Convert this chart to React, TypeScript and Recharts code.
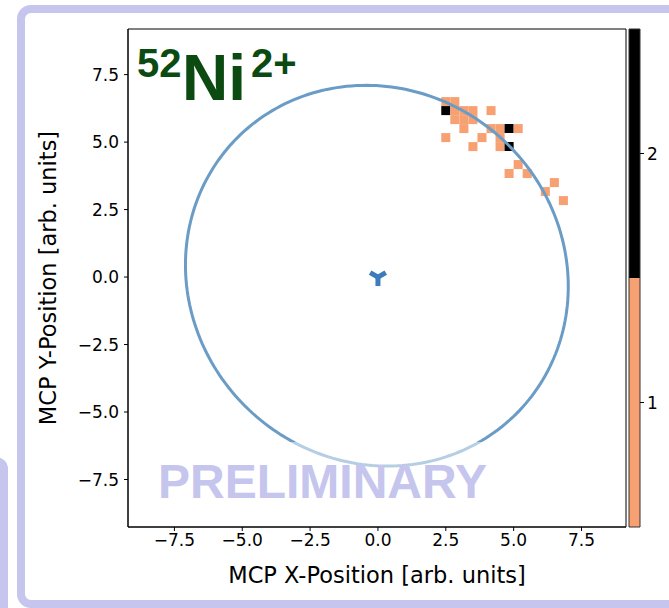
import React from 'react';
import { ScatterChart, Scatter, XAxis, YAxis, ReferenceArea } from 'recharts';

// ---- data ----
const X_TICKS = [-7.5, -5, -2.5, 0, 2.5, 5, 7.5];
const Y_TICKS = [-7.5, -5, -2.5, 0, 2.5, 5, 7.5];
const X_DOMAIN = [-9.21, 9.14];
const Y_DOMAIN = [-9.26, 9.19];

// histogram bins (centres), bin width 1/3
const BIN = 1 / 3;
const cellX = [2.5, 2.833, 2.5, 2.833, 3.167, 3.5, 4.167, 2.833, 3.167, 3.5, 3.167, 4.167, 4.5, 4.833, 5.167, 2.5, 3.833, 4.5, 3.5, 4.5, 4.833, 5.167, 4.833, 5.5, 6.5, 6.167, 6.833];
const cellY = [6.5, 6.5, 6.167, 6.167, 6.167, 6.167, 6.167, 5.833, 5.833, 5.833, 5.5, 5.5, 5.5, 5.5, 5.5, 5.167, 5.167, 5.167, 4.833, 4.833, 4.833, 4.167, 3.833, 3.833, 3.5, 3.167, 2.833];
const cellCount = [1, 1, 2, 1, 1, 1, 1, 1, 1, 1, 1, 1, 1, 2, 1, 1, 1, 1, 1, 1, 2, 1, 1, 1, 1, 1, 1];

const COUNT_LEVELS = [1, 2];
const COUNT_COLORS = ['#f7a072', '#000000'];
const CB_TICKS = [1, 2];

// fitted MCP ellipse parameters
const ELLIPSE_CX = -0.04;
const ELLIPSE_CY = 0.05;
const ELLIPSE_A = 7.25;
const ELLIPSE_B = 6.85;
const ELLIPSE_ANGLE_DEG = 135;

const CENTER_POINT = [{ x: 0, y: 0 }];

const TITLE_MASS = '52';
const TITLE_ELEM = 'Ni';
const TITLE_CHARGE = '2+';
const X_LABEL = 'MCP X-Position [arb. units]';
const Y_LABEL = 'MCP Y-Position [arb. units]';
const WATERMARK = 'PRELIMINARY';

// ---- derived ----
const cells = cellX.map((x, i) => ({ x, y: cellY[i], c: cellCount[i] }));
const ellipsePts = (() => {
  const th = (ELLIPSE_ANGLE_DEG * Math.PI) / 180;
  const pts: { x: number; y: number }[] = [];
  const N = 240;
  for (let k = 0; k <= N; k++) {
    const t = (2 * Math.PI * k) / N;
    const u = ELLIPSE_A * Math.cos(t);
    const v = ELLIPSE_B * Math.sin(t);
    pts.push({
      x: ELLIPSE_CX + u * Math.cos(th) - v * Math.sin(th),
      y: ELLIPSE_CY + u * Math.sin(th) + v * Math.cos(th),
    });
  }
  return pts;
})();
const cbAnchor = CB_TICKS.map((t) => ({ x: 0.5, y: t }));

const fmt = (v: number) => v.toFixed(1).replace('-', '\u2212');
const LAV = '#c5c5ed';
const TICK_FONT = { fontFamily: 'DejaVu Sans', fontSize: 17, fill: '#000' };

const TriDown = (props: any) => {
  const { cx, cy } = props;
  const r = 9;
  return (
    <g stroke="#3c7cbc" strokeWidth={5} strokeLinecap="butt">
      <line x1={cx} y1={cy} x2={cx} y2={cy + r} />
      <line x1={cx} y1={cy} x2={cx - 0.866 * r} y2={cy - 0.5 * r} />
      <line x1={cx} y1={cy} x2={cx + 0.866 * r} y2={cy - 0.5 * r} />
    </g>
  );
};

const NoDot = () => <g />;

export default function App() {
  return (
    <div style={{ position: 'absolute', left: 0, top: 0, width: 669, height: 608, background: '#fff', overflow: 'hidden' }}>
      <div style={{ position: 'absolute', left: 0, top: 0 }}>
        <ScatterChart width={669} height={608} margin={{ top: 29, right: 43, left: 68, bottom: 31 }}>
          <XAxis
            xAxisId="b"
            type="number"
            dataKey="x"
            domain={X_DOMAIN}
            allowDataOverflow
            ticks={X_TICKS}
            tickFormatter={fmt}
            height={50}
            tickSize={4}
            tickMargin={3}
            stroke="#000"
            tick={TICK_FONT}
          />
          <YAxis
            yAxisId="l"
            type="number"
            dataKey="y"
            domain={Y_DOMAIN}
            allowDataOverflow
            ticks={Y_TICKS}
            tickFormatter={fmt}
            width={60}
            tickSize={4}
            tickMargin={5}
            stroke="#000"
            tick={TICK_FONT}
          />
          {cells.map((c, i) => (
            <ReferenceArea
              key={i}
              xAxisId="b"
              yAxisId="l"
              x1={c.x - BIN / 2}
              x2={c.x + BIN / 2}
              y1={c.y - BIN / 2}
              y2={c.y + BIN / 2}
              fill={COUNT_COLORS[COUNT_LEVELS.indexOf(c.c)]}
              fillOpacity={1}
              stroke="none"
            />
          ))}
          <ReferenceArea
            xAxisId="b"
            yAxisId="l"
            x1={X_DOMAIN[0]}
            x2={X_DOMAIN[1]}
            y1={Y_DOMAIN[0]}
            y2={Y_DOMAIN[1]}
            fill="none"
            fillOpacity={0}
            stroke="#000"
            strokeWidth={1}
          />
          <Scatter
            xAxisId="b"
            yAxisId="l"
            data={ellipsePts}
            line={{ stroke: '#6a9cc6', strokeWidth: 3 }}
            lineType="joint"
            shape={NoDot}
            isAnimationActive={false}
          />
          <Scatter xAxisId="b" yAxisId="l" data={CENTER_POINT} shape={TriDown} isAnimationActive={false} />
        </ScatterChart>
      </div>

      {/* colorbar */}
      <div style={{ position: 'absolute', left: 620, top: 0 }}>
        <ScatterChart width={49} height={608} margin={{ top: 29, right: 0, left: 9, bottom: 81 }}>
          <XAxis xAxisId="c" type="number" dataKey="x" domain={[0, 1]} hide />
          <YAxis
            yAxisId="c"
            orientation="right"
            type="number"
            dataKey="y"
            domain={[0.5, 2.5]}
            allowDataOverflow
            ticks={CB_TICKS}
            width={29}
            tickSize={4}
            tickMargin={3}
            axisLine={false}
            stroke="#000"
            tick={{ ...TICK_FONT, textAnchor: 'start' }}
          />
          {COUNT_LEVELS.map((lv, i) => (
            <ReferenceArea
              key={lv}
              xAxisId="c"
              yAxisId="c"
              x1={0}
              x2={1}
              y1={lv - 0.5}
              y2={lv + 0.5}
              fill={COUNT_COLORS[i]}
              fillOpacity={1}
              stroke="none"
            />
          ))}
          <ReferenceArea xAxisId="c" yAxisId="c" x1={0} x2={1} y1={0.5} y2={2.5} fill="none" fillOpacity={0} stroke="#333" strokeWidth={1} />
          <Scatter xAxisId="c" yAxisId="c" data={cbAnchor} shape={NoDot} isAnimationActive={false} />
        </ScatterChart>
      </div>

      <svg width={669} height={608} style={{ position: 'absolute', left: 0, top: 0, pointerEvents: 'none' }}>
        {/* frames */}
        <rect x={21} y={9} width={700} height={595} rx={10} fill="none" stroke={LAV} strokeWidth={8} />
        <rect x={-100} y={461} width={104} height={300} rx={8} fill="none" stroke={LAV} strokeWidth={8} />
        {/* axis labels */}
        <text x={377} y={583} textAnchor="middle" fontFamily="DejaVu Sans" fontSize={22.5} fill="#000">{X_LABEL}</text>
        <text x={56} y={278} textAnchor="middle" fontFamily="DejaVu Sans" fontSize={22.5} fill="#000" transform="rotate(-90 56 278)">{Y_LABEL}</text>
        {/* title */}
        <g fontFamily="Liberation Sans" fontWeight="bold" fill="#0b4a10">
          <text x={137} y={77} fontSize={40}>{TITLE_MASS}</text>
          <text x={182} y={100} fontSize={64}>{TITLE_ELEM}</text>
          <text x={251} y={77} fontSize={40}>{TITLE_CHARGE}</text>
        </g>
        {/* watermark */}
        <rect x={155} y={442} width={335} height={70} fill="#fff" fillOpacity={0.5} />
        <text x={158} y={498} fontFamily="Liberation Sans" fontWeight="bold" fontSize={48} fill={LAV}>{WATERMARK}</text>
      </svg>
    </div>
  );
}
